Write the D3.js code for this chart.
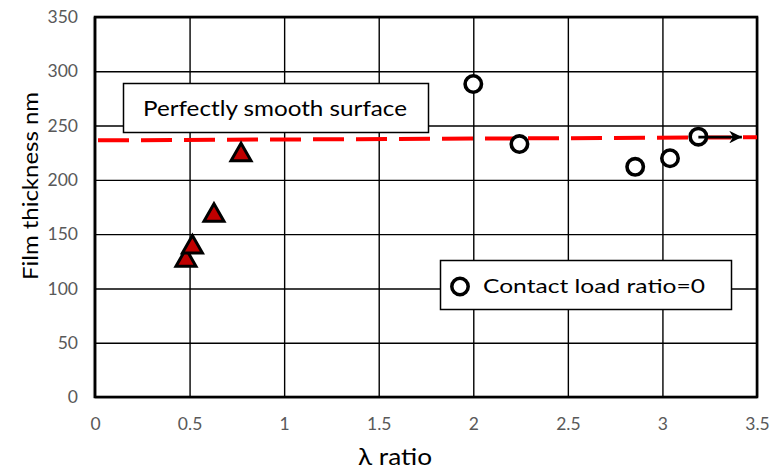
<!DOCTYPE html>
<html>
<head>
<meta charset="utf-8">
<script src="https://cdn.jsdelivr.net/npm/d3@7"></script>
<style>
  html, body { margin: 0; padding: 0; background: #fff; }
  svg { display: block; font-family: Lato, "Open Sans", sans-serif; }
</style>
</head>
<body>
<svg id="chart" width="772" height="470"></svg>
<script>
// ---- data ----
const xTicks = [0, 0.5, 1, 1.5, 2, 2.5, 3, 3.5];
const xTickLabels = ["0", "0.5", "1", "1.5", "2", "2.5", "3", "3.5"];
const yTicks = [0, 50, 100, 150, 200, 250, 300, 350];
const yTickLabels = ["0", "50", "100", "150", "200", "250", "300", "350"];

const triangleX = [0.481, 0.515, 0.629, 0.772];
const triangleY = [127.8, 140, 169.2, 225];

const circleX = [2.0, 2.244, 2.856, 3.04, 3.19];
const circleY = [288.3, 233, 212, 219.9, 239.8];

const smoothX = [0, 3.5];
const smoothY = [236.4, 239.2];

const arrowX = [3.19, 3.42];
const arrowY = [239.4, 239.4];

const xTitle = "λ ratio";
const yTitle = "Film thickness nm";
const smoothLabel = "Perfectly smooth surface";
const legendLabel = "Contact load ratio=0";

// ---- layout ----
const svg = d3.select("#chart");
const pL = 95, pR = 757, pT = 17, pB = 397;
const x = d3.scaleLinear().domain([0, 3.5]).range([pL, pR]);
const y = d3.scaleLinear().domain([0, 350]).range([pB, pT]);

// gridlines + axes
const gx = svg.append("g").attr("transform", `translate(0,${pB})`)
  .call(d3.axisBottom(x).tickValues(xTicks)
    .tickFormat((d, i) => xTickLabels[i])
    .tickSize(-(pB - pT)).tickPadding(21));
gx.select(".domain").remove();
gx.selectAll("line").attr("stroke", "#000").attr("stroke-width", 1.4);
gx.selectAll("text").attr("fill", "#595959").attr("font-size", 17.5)
  .attr("font-family", "Lato, sans-serif");

const gy = svg.append("g").attr("transform", `translate(${pL},0)`)
  .call(d3.axisLeft(y).tickValues(yTicks)
    .tickFormat((d, i) => yTickLabels[i])
    .tickSize(-(pR - pL)).tickPadding(17));
gy.select(".domain").remove();
gy.selectAll("line").attr("stroke", "#000").attr("stroke-width", 1.4);
gy.selectAll("text").attr("fill", "#595959").attr("font-size", 17.5)
  .attr("font-family", "Lato, sans-serif");

// plot border
svg.append("line").attr("x1", pL - 1.5).attr("x2", pL - 1.5)
  .attr("y1", pT).attr("y2", pB + 1).attr("stroke", "#bbb").attr("stroke-width", 1.2);
svg.append("rect").attr("x", pL).attr("y", pT)
  .attr("width", pR - pL).attr("height", pB - pT)
  .attr("fill", "none").attr("stroke", "#000").attr("stroke-width", 2.6);

// smooth surface dashed line
svg.append("line")
  .attr("x1", x(smoothX[0]) + 3).attr("y1", y(smoothY[0]))
  .attr("x2", x(smoothX[1])).attr("y2", y(smoothY[1]))
  .attr("stroke", "#ff0000").attr("stroke-width", 4)
  .attr("stroke-dasharray", "31,12");

// text box: Perfectly smooth surface
svg.append("rect").attr("x", 123.5).attr("y", 83.5).attr("width", 305).attr("height", 49)
  .attr("fill", "#fff").attr("stroke", "#000").attr("stroke-width", 1.5);
svg.append("text").attr("x", 143).attr("y", 115.5)
  .attr("font-size", 22).attr("fill", "#000")
  .attr("textLength", 264).attr("lengthAdjust", "spacingAndGlyphs")
  .text(smoothLabel);

// legend box
svg.append("rect").attr("x", 440.5).attr("y", 260.5).attr("width", 291).attr("height", 49)
  .attr("fill", "#fff").attr("stroke", "#000").attr("stroke-width", 1.5);
svg.append("circle").attr("cx", 460).attr("cy", 286.5).attr("r", 8.2)
  .attr("fill", "#fff").attr("stroke", "#000").attr("stroke-width", 3.5);
svg.append("text").attr("x", 483).attr("y", 293)
  .attr("font-size", 20).attr("fill", "#000")
  .attr("textLength", 222).attr("lengthAdjust", "spacingAndGlyphs")
  .text(legendLabel);

// triangles
const tri = "M0,-9.5L10,8L-10,8Z";
svg.append("g").selectAll("path").data(triangleX).join("path")
  .attr("d", tri)
  .attr("transform", (d, i) => `translate(${x(d)},${y(triangleY[i])})`)
  .attr("fill", "#c00000").attr("stroke", "#000").attr("stroke-width", 3)
  .attr("stroke-linejoin", "miter");

// circles
svg.append("g").selectAll("circle").data(circleX).join("circle")
  .attr("cx", d => x(d)).attr("cy", (d, i) => y(circleY[i]))
  .attr("r", 8.2)
  .attr("fill", "#fff").attr("stroke", "#000").attr("stroke-width", 3.6);

// arrow
svg.append("defs").append("marker")
  .attr("id", "ah").attr("viewBox", "0 0 10 10").attr("refX", 10).attr("refY", 5)
  .attr("markerWidth", 4.5).attr("markerHeight", 4.5).attr("markerUnits", "strokeWidth")
  .attr("orient", "auto")
  .append("path").attr("d", "M0,0L10,5L0,10L3,5Z").attr("fill", "#000");
svg.append("line")
  .attr("x1", x(arrowX[0])).attr("y1", y(arrowY[0]))
  .attr("x2", x(arrowX[1])).attr("y2", y(arrowY[1]))
  .attr("stroke", "#000").attr("stroke-width", 2.8)
  .attr("marker-end", "url(#ah)");

// axis titles
svg.append("text").attr("x", 358).attr("y", 465)
  .attr("font-size", 23).attr("fill", "#000")
  .attr("textLength", 74).attr("lengthAdjust", "spacingAndGlyphs")
  .text(xTitle);
svg.append("text").attr("transform", "translate(38,280) rotate(-90)")
  .attr("font-size", 21).attr("fill", "#000")
  .attr("textLength", 188).attr("lengthAdjust", "spacingAndGlyphs")
  .text(yTitle);
</script>
</body>
</html>
